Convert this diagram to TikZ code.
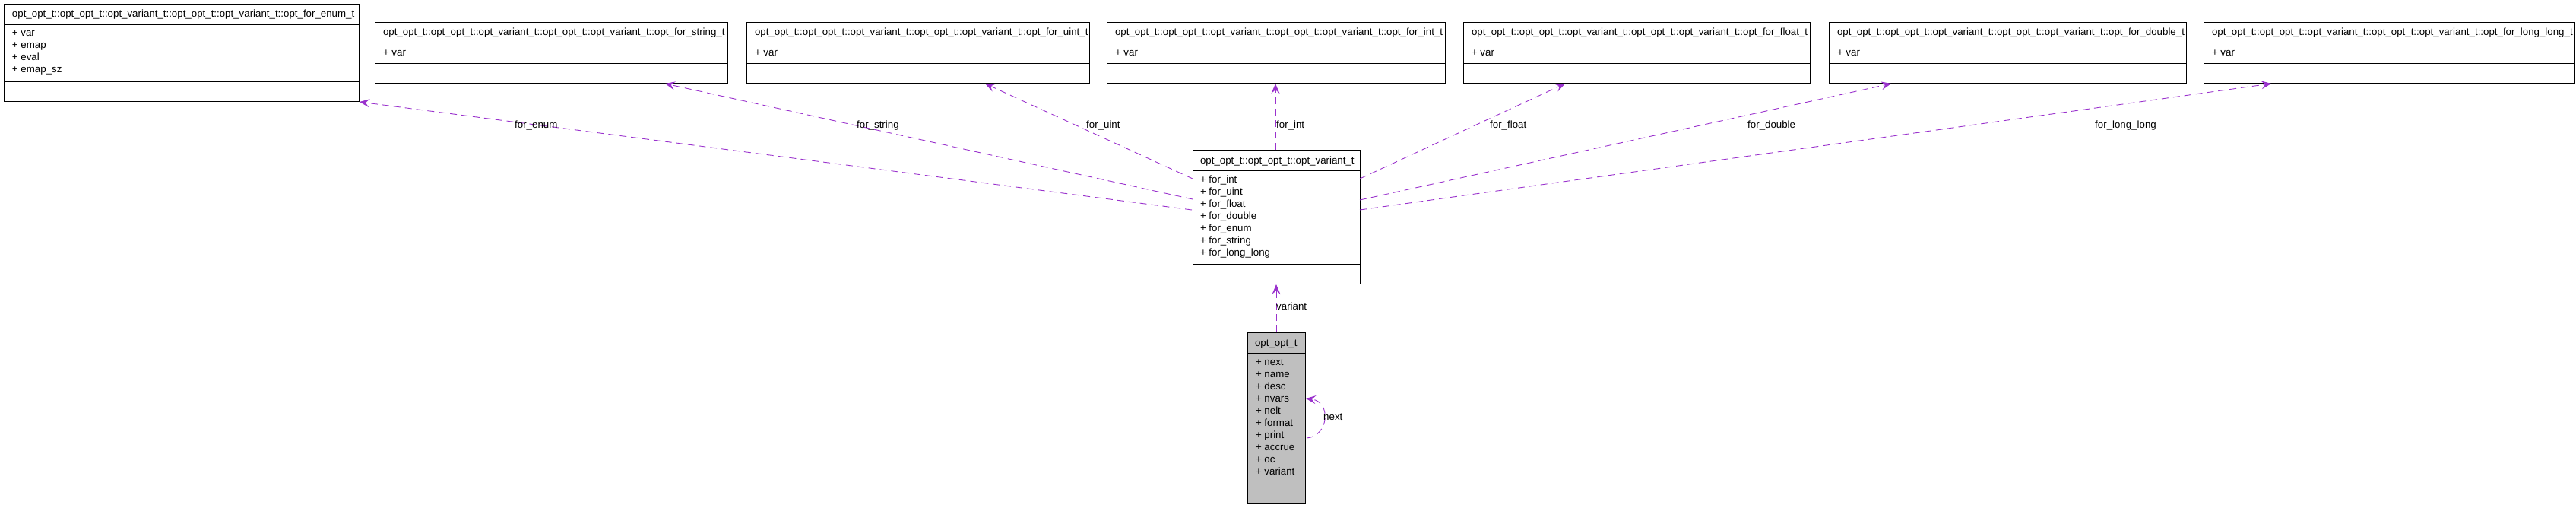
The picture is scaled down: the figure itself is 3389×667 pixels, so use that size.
\documentclass[tikz,border=0pt]{standalone}
\usepackage{fontspec}
\setmainfont{Liberation Sans}
\usetikzlibrary{arrows.meta}
\definecolor{edgecol}{HTML}{9A32CD}
\definecolor{boxgray}{HTML}{BFBFBF}
\begin{document}
\begin{tikzpicture}[x=1pt,y=-1pt,
  umlbox/.style={draw=black, line width=1pt, inner sep=0pt, outer sep=0pt, anchor=north west, fill=white},
  sepline/.style={draw=black, line width=1pt},
  txt/.style={anchor=base west, inner sep=0pt, outer sep=0pt, font=\fontsize{13.3}{16}\selectfont},
  dep/.style={draw=edgecol, line width=0.9pt, dash pattern=on 9pt off 6pt, -{Stealth[length=13pt,width=11pt,inset=5pt]}},
  lbl/.style={anchor=base west, inner sep=0pt, font=\fontsize{13.3}{16}\selectfont}]
\useasboundingbox (0,0) rectangle (3389,667);
\clip (0,0) rectangle (3389,667);

% ---- enum box
\node[umlbox, minimum width=467pt, minimum height=128pt] (enum) at (5,5) {};
\draw[sepline] (5,32) -- (472,32);
\draw[sepline] (5,107) -- (472,107);
\node[txt] (enumT) at (16,22) {opt\_opt\_t::opt\_opt\_t::opt\_variant\_t::opt\_opt\_t::opt\_variant\_t::opt\_for\_enum\_t};
\node[txt] (enumA1) at (16,47) {+ var};
\node[txt] (enumA2) at (16,63.3) {+ emap};
\node[txt] (enumA3) at (16,79.6) {+ eval};
\node[txt] (enumA4) at (16,95.9) {+ emap\_sz};

% ---- string box
\node[umlbox, minimum width=464pt, minimum height=80pt] (string) at (493,29) {};
\draw[sepline] (493,56) -- (957,56);
\draw[sepline] (493,83) -- (957,83);
\node[txt] (stringT) at (504,46.5) {opt\_opt\_t::opt\_opt\_t::opt\_variant\_t::opt\_opt\_t::opt\_variant\_t::opt\_for\_string\_t};
\node[txt] (stringA) at (504,73.5) {+ var};

% ---- uint box
\node[umlbox, minimum width=451pt, minimum height=80pt] (uint) at (982,29) {};
\draw[sepline] (982,56) -- (1433,56);
\draw[sepline] (982,83) -- (1433,83);
\node[txt] (uintT) at (993,46.5) {opt\_opt\_t::opt\_opt\_t::opt\_variant\_t::opt\_opt\_t::opt\_variant\_t::opt\_for\_uint\_t};
\node[txt] (uintA) at (993,73.5) {+ var};

% ---- int box
\node[umlbox, minimum width=445pt, minimum height=80pt] (int) at (1456,29) {};
\draw[sepline] (1456,56) -- (1901,56);
\draw[sepline] (1456,83) -- (1901,83);
\node[txt] (intT) at (1467,46.5) {opt\_opt\_t::opt\_opt\_t::opt\_variant\_t::opt\_opt\_t::opt\_variant\_t::opt\_for\_int\_t};
\node[txt] (intA) at (1467,73.5) {+ var};

% ---- float box
\node[umlbox, minimum width=456pt, minimum height=80pt] (float) at (1925,29) {};
\draw[sepline] (1925,56) -- (2381,56);
\draw[sepline] (1925,83) -- (2381,83);
\node[txt] (floatT) at (1936,46.5) {opt\_opt\_t::opt\_opt\_t::opt\_variant\_t::opt\_opt\_t::opt\_variant\_t::opt\_for\_float\_t};
\node[txt] (floatA) at (1936,73.5) {+ var};

% ---- double box
\node[umlbox, minimum width=470pt, minimum height=80pt] (double) at (2406,29) {};
\draw[sepline] (2406,56) -- (2876,56);
\draw[sepline] (2406,83) -- (2876,83);
\node[txt] (doubleT) at (2417,46.5) {opt\_opt\_t::opt\_opt\_t::opt\_variant\_t::opt\_opt\_t::opt\_variant\_t::opt\_for\_double\_t};
\node[txt] (doubleA) at (2417,73.5) {+ var};

% ---- long long box
\node[umlbox, minimum width=488pt, minimum height=80pt] (longlong) at (2899,29) {};
\draw[sepline] (2899,56) -- (3387,56);
\draw[sepline] (2899,83) -- (3387,83);
\node[txt] (longlongT) at (2910,46.5) {opt\_opt\_t::opt\_opt\_t::opt\_variant\_t::opt\_opt\_t::opt\_variant\_t::opt\_for\_long\_long\_t};
\node[txt] (longlongA) at (2910,73.5) {+ var};

% ---- central variant box
\node[umlbox, minimum width=220pt, minimum height=176pt] (variant) at (1569,197) {};
\draw[sepline] (1569,224) -- (1789,224);
\draw[sepline] (1569,347) -- (1789,347);
\node[txt] (variantT) at (1579,215.5) {opt\_opt\_t::opt\_opt\_t::opt\_variant\_t};
\node[txt] (vA1) at (1579,240.5) {+ for\_int};
\node[txt] (vA2) at (1579,256.5) {+ for\_uint};
\node[txt] (vA3) at (1579,272.5) {+ for\_float};
\node[txt] (vA4) at (1579,288.5) {+ for\_double};
\node[txt] (vA5) at (1579,304.5) {+ for\_enum};
\node[txt] (vA6) at (1579,320.5) {+ for\_string};
\node[txt] (vA7) at (1579,336.5) {+ for\_long\_long};

% ---- opt_opt_t box
\node[umlbox, fill=boxgray, minimum width=76pt, minimum height=225pt] (opt) at (1641,437) {};
\draw[sepline] (1641,464) -- (1717,464);
\draw[sepline] (1641,636) -- (1717,636);
\node[txt] (optT) at (1651,455) {opt\_opt\_t};
\node[txt] (oA1) at (1652,480.5) {+ next};
\node[txt] (oA2) at (1652,496.5) {+ name};
\node[txt] (oA3) at (1652,512.5) {+ desc};
\node[txt] (oA4) at (1652,528.5) {+ nvars};
\node[txt] (oA5) at (1652,544.5) {+ nelt};
\node[txt] (oA6) at (1652,560.5) {+ format};
\node[txt] (oA7) at (1652,576.5) {+ print};
\node[txt] (oA8) at (1652,592.5) {+ accrue};
\node[txt] (oA9) at (1652,608.5) {+ oc};
\node[txt] (oA10) at (1652,624.5) {+ variant};

% ---- connector end points
\coordinate (cEnum) at (1568,276);
\coordinate (cString) at (1569,262);
\coordinate (cUint) at (1569,235);
\coordinate (cInt) at (1678,197);
\coordinate (cFloat) at (1789,235);
\coordinate (cDouble) at (1789,263);
\coordinate (cLong) at (1789,276);
\coordinate (tEnum) at (473,134);
\coordinate (tString) at (875,110);
\coordinate (tUint) at (1296,110);
\coordinate (tInt) at (1678,110);
\coordinate (tFloat) at (2059,110);
\coordinate (tDouble) at (2488,110);
\coordinate (tLong) at (2988,110);
\coordinate (vBot) at (1679,374);
\coordinate (oTop) at (1679,437);
\coordinate (loopS) at (1719,576);
\coordinate (loopE) at (1718,524);

\draw[dep] (cEnum) -- (tEnum);
\draw[dep] (cString) -- (tString);
\draw[dep] (cUint) -- (tUint);
\draw[dep] (cInt) -- (tInt);
\draw[dep] (cFloat) -- (tFloat);
\draw[dep] (cDouble) -- (tDouble);
\draw[dep] (cLong) -- (tLong);
\draw[dep] (oTop) -- (vBot);
\draw[dep] (loopS) .. controls (1748,574) and (1752,528) .. (loopE);

% ---- labels
\node[lbl] (lEnum) at (677,168) {for\_enum};
\node[lbl] (lString) at (1127,168) {for\_string};
\node[lbl] (lUint) at (1429,168) {for\_uint};
\node[lbl] (lInt) at (1679,168) {for\_int};
\node[lbl] (lFloat) at (1960,168) {for\_float};
\node[lbl] (lDouble) at (2299,168) {for\_double};
\node[lbl] (lLong) at (2756,168) {for\_long\_long};
\node[lbl] (lVariant) at (1679,407.5) {variant};
\node[lbl] (lNext) at (1741,552.5) {next};
\end{tikzpicture}
\end{document}
